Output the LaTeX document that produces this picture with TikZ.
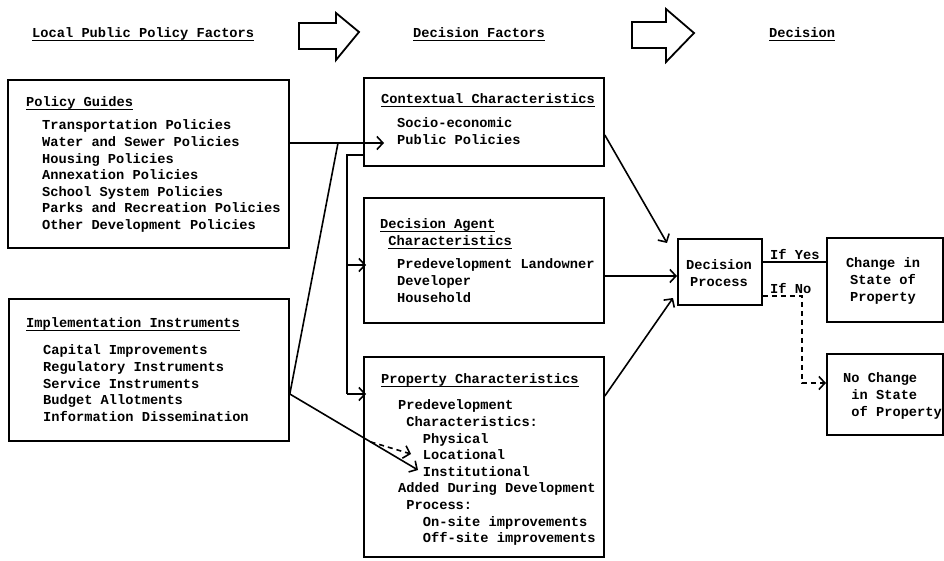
\documentclass[tikz,border=0pt]{standalone}
\usepackage{fontspec}
\newfontfamily\tw{Liberation Mono}
\usetikzlibrary{arrows.meta,calc}
\newcommand{\myul}[1]{\setbox0=\hbox{#1}\rlap{\rule[-3.5pt]{\wd0}{1.4pt}}\box0}
\begin{document}
\begin{tikzpicture}[x=1pt,y=-1pt,
  box/.style={draw, line width=1.8pt, inner sep=0pt, anchor=north west},
  txt/.style={anchor=north west, inner sep=0pt, align=left, font=\tw\bfseries\fontsize{13.7pt}{16.6pt}\selectfont},
  conn/.style={line width=1.6pt},
  arr/.style={conn, -{Straight Barb[length=6pt,width=13pt]}},
  dsh/.style={arr, dash pattern=on 5pt off 4pt},
  hollow/.style={draw, line width=1.8pt, line join=miter}]
\useasboundingbox (0,0) rectangle (944,561);

% header
\node[txt] (h1) at (32,26) {\strut\myul{Local Public Policy Factors}};
\node[txt] (h2) at (413,26) {\strut\myul{Decision Factors}};
\node[txt] (h3) at (769,26) {\strut\myul{Decision}};
\draw[hollow] (299,23) -- (336,23) -- (336,13) -- (359,32) -- (336,60) -- (336,49) -- (299,49) -- cycle;
\draw[hollow] (632,22) -- (666,22) -- (666,9) -- (694,33) -- (666,62) -- (666,48) -- (632,48) -- cycle;

% boxes
\node[box, minimum width=281pt, minimum height=168pt] (pg) at (7,79) {};
\node[box, minimum width=280pt, minimum height=142pt] (ii) at (8,298) {};
\node[box, minimum width=240pt, minimum height=88pt] (ctx) at (363,77) {};
\node[box, minimum width=240pt, minimum height=125pt] (dac) at (363,197) {};
\node[box, minimum width=240pt, minimum height=200pt] (prop) at (363,356) {};
\node[box, minimum width=84pt, minimum height=66pt] (dp) at (677,238) {};
\node[box, minimum width=116pt, minimum height=84pt] (chg) at (826,237) {};
\node[box, minimum width=116pt, minimum height=81pt] (nochg) at (826,353) {};

% texts
\node[txt] (pgT) at (26,95) {\strut\myul{Policy Guides}};
\node[txt] (pgL) at (42,118) {\strut Transportation Policies\\Water and Sewer Policies\\Housing Policies\\Annexation Policies\\School System Policies\\Parks and Recreation Policies\\Other Development Policies};
\node[txt] (iiT) at (26,316) {\strut\myul{Implementation Instruments}};
\node[txt] (iiL) at (43,343) {\strut Capital Improvements\\Regulatory Instruments\\Service Instruments\\Budget Allotments\\Information Dissemination};
\node[txt] (ctxT) at (381,92) {\strut\myul{Contextual Characteristics}};
\node[txt] (ctxL) at (397,116) {\strut Socio-economic\\Public Policies};
\node[txt] (dacT) at (380,217) {\strut\myul{Decision Agent}\\\hphantom{x}\myul{Characteristics}};
\node[txt] (dacL) at (397,257) {\strut Predevelopment Landowner\\Developer\\Household};
\node[txt] (propT) at (381,372) {\strut\myul{Property Characteristics}};
\node[txt] (propL) at (398,398) {\strut Predevelopment\\\hphantom{x}Characteristics:\\\hphantom{xxx}Physical\\\hphantom{xxx}Locational\\\hphantom{xxx}Institutional\\Added During Development\\\hphantom{x}Process:\\\hphantom{xxx}On-site improvements\\\hphantom{xxx}Off-site improvements};
\node[txt, anchor=north, align=center] (dpT) at (719,258) {\strut Decision\\Process};
\node[txt] (yes) at (770,248) {\strut If Yes};
\node[txt] (no) at (770,282) {\strut If No};
\node[txt, anchor=north, align=center] (chgT) at (883,256) {\strut Change in\\State of\\Property};
\node[txt] (nochgT) at (843,371) {\strut No Change\\\hphantom{x}in State\\\hphantom{x}of Property};

% connectors left
\coordinate (a1) at (384,143);
\draw[arr] (pg.east |- a1) -- (a1);
\coordinate (j1) at (338,143);
\coordinate (iiR) at (ii.east |- 0,394);
\draw[conn] (iiR) -- (j1);
\coordinate (instA) at (418,470);
\draw[arr] (iiR) -- (instA);
\coordinate (d0) at ($(iiR)!0.63!(instA)$);
\coordinate (locA) at (411,454);
\draw[dsh] (d0) -- (locA);

% trunk
\coordinate (t1) at (347,155);
\coordinate (t2) at (347,265);
\coordinate (t3) at (347,394);
\coordinate (pa) at ($(prop.west |- t3)+(3,0)$);
\coordinate (da) at ($(dac.west |- t2)+(3,0)$);
\draw[conn] (ctx.west |- t1) -- (t1) -- (t3);
\draw[arr] (t3) -- (pa);
\draw[arr] (t2) -- (da);

% connectors right
\coordinate (c1) at (667,243);
\draw[arr] (ctx.east |- 0,135) -- (c1);
\coordinate (c2) at (dp.west |- 0,276);
\draw[arr] (dac.east |- c2) -- (c2);
\coordinate (c3) at (673,298);
\draw[arr] (prop.east |- 0,396) -- (c3);
\coordinate (y1) at (dp.east |- 0,262);
\draw[conn] (y1) -- (chg.west |- y1);
\coordinate (n1) at (802,296);
\coordinate (n2) at (802,383);
\draw[dsh] (dp.east |- n1) -- (n1) -- (n2) -- (nochg.west |- n2);
\end{tikzpicture}
\end{document}
